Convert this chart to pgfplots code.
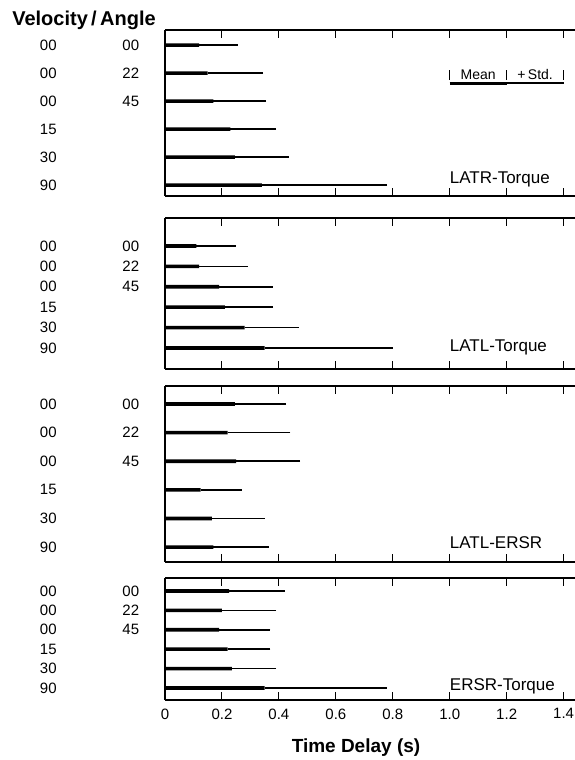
\documentclass[border=0pt]{standalone}
\usepackage{fontspec}
\setmainfont{Liberation Sans}
\usepackage{pgfplots}
\usepackage{pgfplotstable}
\pgfplotsset{compat=1.18}

% row: 6 = top bar (00/00) ... 1 = bottom bar (90)
\pgfplotstableread{
row mean std
6 0.12 0.135
5 0.15 0.195
4 0.17 0.185
3 0.23 0.16
2 0.245 0.19
1 0.34 0.44
}\latrtorque
\pgfplotstableread{
row mean std
6 0.11 0.14
5 0.12 0.17
4 0.19 0.19
3 0.21 0.17
2 0.28 0.19
1 0.35 0.45
}\latltorque
\pgfplotstableread{
row mean std
6 0.245 0.18
5 0.22 0.22
4 0.25 0.225
3 0.125 0.145
2 0.165 0.185
1 0.17 0.195
}\latlersr
\pgfplotstableread{
row mean std
6 0.225 0.195
5 0.20 0.19
4 0.19 0.18
3 0.22 0.15
2 0.235 0.155
1 0.35 0.43
}\ersrtorque

\newcommand{\lblfont}{\fontsize{15}{15}\selectfont}
\newcommand{\panelfont}{\fontsize{17}{17}\selectfont}

\pgfplotsset{
  panel/.style={
    scale only axis, width=410pt, anchor=south west,
    xmin=0, xmax=1.44,
    axis x line=box, axis y line=left,
    x axis line style={-}, y axis line style={-},
    axis line style={line width=1.2pt},
    xtick={0,0.2,0.4,0.6,0.8,1.0,1.2,1.4},
    xticklabels=\empty, ytick=\empty,
    tick align=inside, major tick length=8pt,
    tick style={line width=0.9pt, black},
    clip=false,
  },
  meanbar/.style={
    xbar, bar shift=0pt, bar width=3.6pt, fill=black, draw=none,
    error bars/.cd, x dir=plus, x explicit, error mark=none,
    error bar style={line width=1.7pt, black},
  },
}

\newcommand{\leftlabels}[1]{%
  \node[font=\lblfont] at (axis cs:-0.41,6) {00};
  \node[font=\lblfont] at (axis cs:-0.41,5) {00};
  \node[font=\lblfont] at (axis cs:-0.41,4) {00};
  \node[font=\lblfont] at (axis cs:-0.41,3) {15};
  \node[font=\lblfont] at (axis cs:-0.41,2) {30};
  \node[font=\lblfont] at (axis cs:-0.41,1) {90};
  \node[font=\lblfont] at (axis cs:-0.12,6) {00};
  \node[font=\lblfont] at (axis cs:-0.12,5) {22};
  \node[font=\lblfont] at (axis cs:-0.12,4) {45};
}

\begin{document}
\begin{tikzpicture}
\useasboundingbox (0pt,0pt) rectangle (575pt,760pt);

% LATR-Torque
\begin{axis}[panel, at={(165pt,564pt)}, height=166pt, ymin=0.61, ymax=6.54]
\addplot[meanbar] table[x=mean, y=row, x error=std] {\latrtorque};
\leftlabels{}
\node[font=\panelfont, anchor=west, inner sep=0pt] at (axis cs:1.0,1.2) {LATR-Torque};
% key
\addplot[line width=3.2pt, no marks] coordinates {(1.0,4.64)(1.2,4.64)};
\addplot[line width=1.5pt, no marks] coordinates {(1.2,4.64)(1.4,4.64)};
\addplot[line width=0.8pt, no marks] coordinates {(1.0,4.76)(1.0,5.12)};
\addplot[line width=0.8pt, no marks] coordinates {(1.2,4.76)(1.2,5.12)};
\addplot[line width=0.8pt, no marks] coordinates {(1.4,4.76)(1.4,5.12)};
\node[font=\fontsize{14}{14}\selectfont, anchor=base] at (axis cs:1.1,4.78) {Mean};
\node[font=\fontsize{14}{14}\selectfont, anchor=base] at (axis cs:1.3,4.78) {+\,Std.};
\end{axis}

% LATL-Torque
\begin{axis}[panel, at={(165pt,391pt)}, height=151pt, ymin=-0.03, ymax=7.37]
\addplot[meanbar] table[x=mean, y=row, x error=std] {\latltorque};
\leftlabels{}
\node[font=\panelfont, anchor=west, inner sep=0pt] at (axis cs:1.0,1.05) {LATL-Torque};
\end{axis}

% LATL-ERSR
\begin{axis}[panel, at={(165pt,198pt)}, height=176pt, ymin=0.48, ymax=6.63]
\addplot[meanbar] table[x=mean, y=row, x error=std] {\latlersr};
\leftlabels{}
\node[font=\panelfont, anchor=west, inner sep=0pt] at (axis cs:1.0,1.15) {LATL-ERSR};
\end{axis}

% ERSR-Torque
\begin{axis}[panel, at={(165pt,60pt)}, height=122pt, ymin=0.38, ymax=6.67,
  xticklabels={0,0.2,0.4,0.6,0.8,1.0,1.2,1.4},
  xticklabel style={font=\fontsize{15}{15}\selectfont, yshift=-5pt}]
\addplot[meanbar] table[x=mean, y=row, x error=std] {\ersrtorque};
\leftlabels{}
\node[font=\panelfont, anchor=west, inner sep=0pt] at (axis cs:1.0,1.1) {ERSR-Torque};
\end{axis}

\node[font=\fontsize{20}{20}\selectfont\bfseries] at (84pt,740pt) {Velocity\,/\,Angle};
\node[font=\fontsize{19}{19}\selectfont\bfseries] at (356pt,12pt) {Time Delay (s)};
\end{tikzpicture}
\end{document}
